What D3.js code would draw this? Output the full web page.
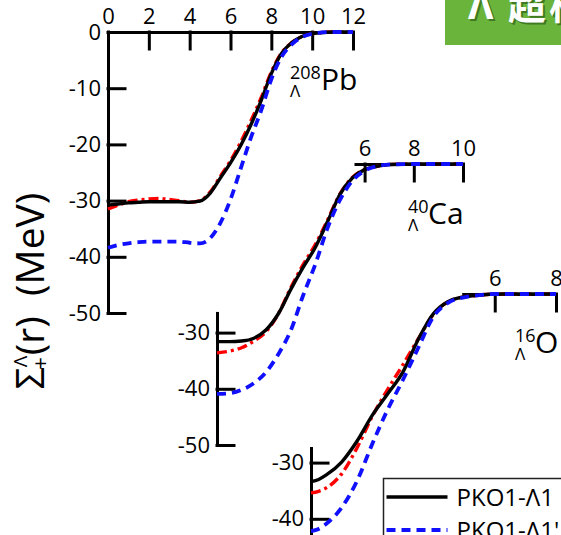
<!DOCTYPE html>
<html>
<head>
<meta charset="utf-8">
<script src="https://cdn.jsdelivr.net/npm/d3@7"></script>
<style>
  body { margin: 0; background: #fff; }
  svg { display: block; font-family: "Open Sans", "Noto Sans", sans-serif; }
</style>
</head>
<body>
<svg id="chart" width="561" height="535"></svg>
<script>
// --------------------------------------------------------------------------------------
// data (r in fm, sigma in MeV)
// --------------------------------------------------------------------------------------
var rPb = [0, 0.5, 1, 1.5, 2, 2.5, 3, 3.5, 4, 4.5, 5, 5.5, 6, 6.5, 7, 7.5, 8, 8.5, 9, 9.5, 10, 11, 12];
var pbSolid   = [-30.8, -30.6, -30.4, -30.3, -30.2, -30.2, -30.2, -30.2, -30.3, -30.1, -28.7, -26.0, -23.3, -20.2, -16.5, -12.2, -7.4, -3.8, -1.9, -0.8, -0.3, 0, 0];
var pbDashDot = [-31.5, -30.8, -30.2, -29.9, -29.7, -29.6, -29.8, -30.0, -30.3, -30.0, -28.5, -25.7, -22.9, -19.6, -15.8, -11.7, -7.1, -3.7, -1.9, -0.8, -0.3, 0, 0];
var pbDashed  = [-38.4, -37.9, -37.6, -37.4, -37.3, -37.3, -37.3, -37.3, -37.5, -37.6, -36.7, -34.0, -29.8, -24.3, -18.8, -14.0, -8.4, -4.4, -2.2, -0.9, -0.3, 0, 0];

var rCa = [0, 0.5, 1, 1.5, 2, 2.5, 3, 3.5, 4, 4.5, 5, 5.5, 6, 6.5, 7, 8, 9, 10];
var caSolid   = [-31.6, -31.6, -31.5, -31.0, -29.5, -26.6, -22.3, -18.4, -14.8, -10.2, -5.4, -2.5, -1.0, -0.4, -0.1, 0, 0, 0];
var caDashDot = [-33.6, -33.3, -32.7, -31.5, -29.8, -26.6, -22.0, -17.9, -14.3, -9.9, -5.3, -2.4, -1.0, -0.4, -0.1, 0, 0, 0];
var caDashed  = [-40.9, -40.8, -40.2, -39.0, -37.0, -33.8, -29.6, -23.4, -17.8, -11.3, -6.4, -3.0, -1.2, -0.4, -0.1, 0, 0, 0];

var rO = [0, 0.25, 0.5, 1, 1.5, 2, 2.5, 3, 3.5, 4, 4.5, 5, 5.5, 6, 7, 8];
var oSolid   = [-33.4, -33.0, -32.2, -29.9, -26.2, -21.6, -17.8, -13.9, -8.1, -3.5, -1.3, -0.5, -0.2, 0, 0, 0];
var oDashDot = [-35.4, -35.1, -34.5, -32.0, -27.4, -21.8, -17.0, -12.6, -8.0, -3.6, -1.3, -0.5, -0.2, 0, 0, 0];
var oDashed  = [-42.2, -41.8, -40.9, -38.0, -33.3, -26.7, -20.6, -15.3, -9.6, -4.0, -1.5, -0.6, -0.2, 0, 0, 0];

var pbRTicks = [0, 2, 4, 6, 8, 10, 12];
var caRTicks = [6, 8, 10];
var oRTicks = [6, 8];
var pbSigmaTicks = [0, -10, -20, -30, -40, -50];
var lowSigmaTicks = [-30, -40, -50];

var seriesNames = ["PKO1-Λ1", "PKO1-Λ1'"];

// --------------------------------------------------------------------------------------
var svg = d3.select("#chart");
var fmt = function(d) { return String(d); };   // plain hyphen, not the unicode minus

var styles = {
  solid:   { color: "#000000", width: 3.4, dash: null },
  dashDot: { color: "#ff0000", width: 3.4, dash: "10,4,3,4" },
  dashed:  { color: "#1010ff", width: 3.8, dash: "9,6" }
};

// --------------------------------------------------------------------------------------
// one panel = one hypernucleus, shifted down and right like in the figure
// --------------------------------------------------------------------------------------
function draw_panel(p)
{
  var x = d3.scaleLinear().domain(p.rDomain).range(p.xRange);
  var y = d3.scaleLinear().domain([0, -50]).range([p.y0, p.y0 + 281]);

  // top axis (only the visible piece of it)
  var xa = d3.scaleLinear().domain([p.rFrom, p.rDomain[1]]).range([x(p.rFrom), x(p.rDomain[1])]);
  var top = svg.append("g")
    .attr("transform", "translate(0," + y(0) + ")")
    .call(d3.axisTop(xa).tickValues(p.rTicks).tickSizeInner(-17).tickSizeOuter(0).tickPadding(8).tickFormat(fmt));

  // left axis
  var ya = d3.scaleLinear().domain([p.sFrom, -50]).range([y(p.sFrom), y(-50)]);
  var left = svg.append("g")
    .attr("transform", "translate(" + x(0) + ",0)")
    .call(d3.axisLeft(ya).tickValues(p.sTicks).tickSizeInner(-17).tickSizeOuter(0).tickPadding(7).tickFormat(fmt));

  [top, left].forEach(function(a) {
    a.attr("font-family", null).attr("font-size", null);
    a.selectAll("path, line").attr("stroke", "#000").attr("stroke-width", 3).attr("stroke-linecap", "square");
    a.selectAll("text").attr("fill", "#000").style("font-size", "22px");
  });

  // curves
  var line = d3.line()
    .x(function(d) { return x(d[0]); })
    .y(function(d) { return y(d[1]); })
    .curve(d3.curveMonotoneX);

  ["dashDot", "solid", "dashed"].forEach(function(k) {
    var s = styles[k];
    svg.append("path")
      .datum(p.r.map(function(r, i) { return [r, p[k][i]]; }))
      .attr("d", line)
      .attr("fill", "none")
      .attr("stroke", s.color)
      .attr("stroke-width", s.width)
      .attr("stroke-dasharray", s.dash);
  });

  // nucleus label  A/Lambda X
  var lab = svg.append("g").attr("transform", "translate(" + p.label[0] + "," + p.label[1] + ")");
  lab.append("text").attr("x", 0).attr("y", -11).style("font-size", "18px").text(p.mass);
  lab.append("text").attr("x", 0).attr("y", 7).style("font-size", "17px").text("Λ");
  lab.append("text").attr("x", p.symX).attr("y", 0).style("font-size", "30px").text(p.sym);
}

draw_panel({ r: rPb, solid: pbSolid, dashDot: pbDashDot, dashed: pbDashed,
             rDomain: [0, 12], xRange: [108, 353], y0: 32, rFrom: 0, sFrom: 0,
             rTicks: pbRTicks, sTicks: pbSigmaTicks,
             label: [290, 90], mass: "208", sym: "Pb", symX: 31 });

draw_panel({ r: rCa, solid: caSolid, dashDot: caDashDot, dashed: caDashed,
             rDomain: [0, 10], xRange: [217, 463], y0: 164, rFrom: 5.63, sFrom: -26.5,
             rTicks: caRTicks, sTicks: lowSigmaTicks,
             label: [408, 224], mass: "40", sym: "Ca", symX: 20 });

draw_panel({ r: rO, solid: oSolid, dashDot: oDashDot, dashed: oDashed,
             rDomain: [0, 8], xRange: [311, 556], y0: 294, rFrom: 4.97, sFrom: -27.4,
             rTicks: oRTicks, sTicks: lowSigmaTicks,
             label: [515, 353], mass: "16", sym: "O", symX: 20 });

// --------------------------------------------------------------------------------------
// y axis title
// --------------------------------------------------------------------------------------
var ylab = svg.append("text")
  .attr("transform", "translate(44,291) rotate(-90)")
  .attr("text-anchor", "middle")
  .style("white-space", "pre")
  .style("font-size", "39px");
ylab.append("tspan").text("Σ");
ylab.append("tspan").attr("dy", -17).style("font-size", "19px").text("Λ");
ylab.append("tspan").attr("dx", -14).attr("dy", 21).style("font-size", "22px").text("+");
ylab.append("tspan").attr("dx", 2).attr("dy", -4).text("(r)  (MeV)");

// --------------------------------------------------------------------------------------
// legend (runs off the bottom right corner)
// --------------------------------------------------------------------------------------
var legend = svg.append("g").attr("transform", "translate(383.5,478.5)");
legend.append("rect")
  .attr("width", 200).attr("height", 120)
  .attr("fill", "#fff").attr("stroke", "#222").attr("stroke-width", 1.5);

var legendRows = legend.selectAll(".row")
  .data([["solid", seriesNames[0]], ["dashed", seriesNames[1]]])
  .enter().append("g")
  .attr("transform", function(d, i) { return "translate(0," + (18.5 + i * 33) + ")"; });

legendRows.append("line")
  .attr("x1", 3).attr("x2", 64)
  .attr("stroke", function(d) { return styles[d[0]].color; })
  .attr("stroke-width", function(d) { return styles[d[0]].width; })
  .attr("stroke-dasharray", function(d) { return styles[d[0]].dash; });

legendRows.append("text")
  .attr("x", 73).attr("y", 9)
  .style("font-size", "24px")
  .text(function(d) { return d[1]; });

// --------------------------------------------------------------------------------------
// green banner in the top right corner
// --------------------------------------------------------------------------------------
svg.append("rect").attr("x", 445).attr("y", 0).attr("width", 116).attr("height", 45).attr("fill", "#6ab43c");
var banner = [["Λ", 468], ["超", 508], ["核", 549]];
banner.forEach(function(b) {
  svg.append("text").attr("x", b[1] + 2).attr("y", 21)
     .attr("fill", "#3f7a22").style("font-size", "38px").style("font-weight", "bold")
     .style("font-family", "'Noto Sans', 'Noto Sans CJK SC'").text(b[0]);
  svg.append("text").attr("x", b[1]).attr("y", 19)
     .attr("fill", "#fff").style("font-size", "38px").style("font-weight", "bold")
     .style("font-family", "'Noto Sans', 'Noto Sans CJK SC'").text(b[0]);
});
</script>
</body>
</html>
